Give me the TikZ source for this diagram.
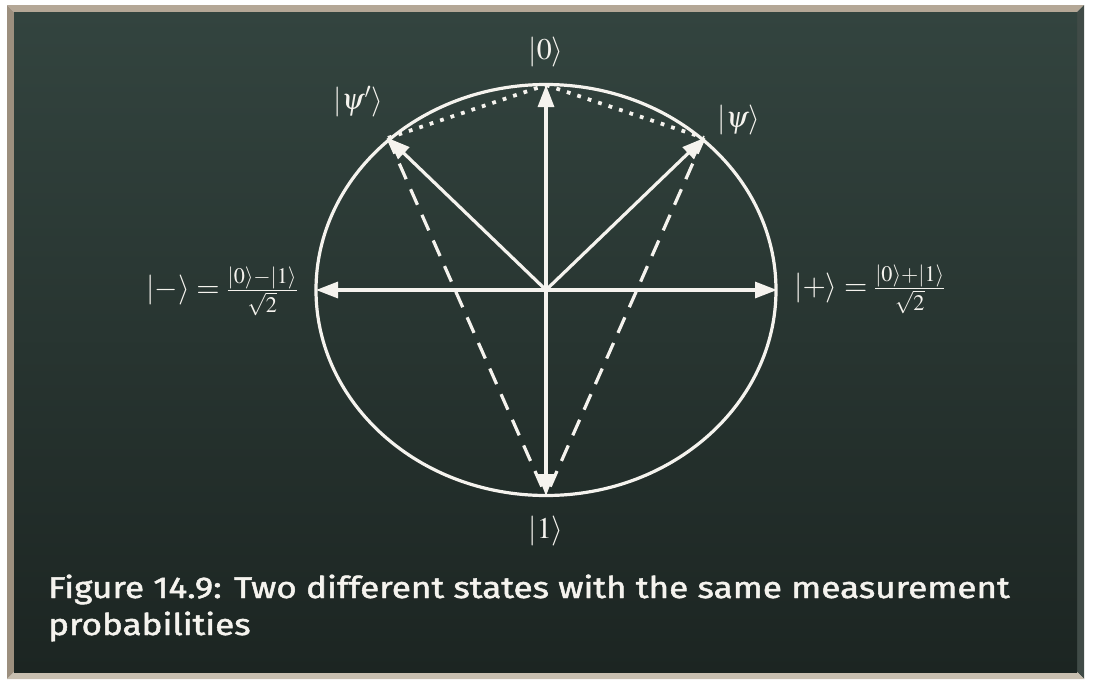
\documentclass[tikz,border=0pt]{standalone}
\usepackage{mathptmx}
\usepackage[no-math]{fontspec}
\usepackage{graphicx}
\newfontfamily\capfont[RawFeature={embolden=1.5}]{Fira Sans}
\usetikzlibrary{arrows.meta}
\definecolor{chalkc}{HTML}{F5F3EE}
\definecolor{boardtop}{HTML}{33443F}
\definecolor{boardbot}{HTML}{1C2522}
\definecolor{frametop}{HTML}{B4A796}
\definecolor{frameleft}{HTML}{9C8F7E}
\definecolor{frameright}{HTML}{404B47}
\definecolor{framebot}{HTML}{C8BFB0}
\newcommand{\capstretch}[1]{\scalebox{1.17}[1]{#1}}
\begin{document}
\begin{tikzpicture}[x=1pt,y=-1pt,
  chalk/.style={draw=chalkc, line width=3.2pt},
  vec/.style={chalk, -{Triangle[length=22pt,width=16pt]}},
  dashline/.style={chalk, dash pattern=on 17pt off 11pt},
  dotline/.style={chalk, line width=3.8pt, dash pattern=on 3.8pt off 7.2pt},
  lbl/.style={text=chalkc, font=\fontsize{30}{36}\selectfont, inner sep=0pt},
  captxt/.style={text=chalkc, font=\capfont\fontsize{30}{36}\selectfont, inner sep=0pt, anchor=base west}]
\useasboundingbox (0,0) rectangle (1096,694);
\fill[white] (0,0) rectangle (1096,694);
% frame
\fill[frametop] (7,5) -- (1084,5) -- (1077,12) -- (14,12) -- cycle;
\fill[frameleft] (7,5) -- (14,12) -- (14,672) -- (7,679) -- cycle;
\fill[frameright] (1084,5) -- (1084,679) -- (1077,672) -- (1077,12) -- cycle;
\fill[framebot] (7,679) -- (1084,679) -- (1077,672) -- (14,672) -- cycle;
\shade[top color=boardtop, bottom color=boardbot] (14,12) rectangle (1077,672);
% geometry
\coordinate (O) at (546,290);
\coordinate (Z) at (546,85);
\coordinate (U) at (546,496);
\coordinate (M) at (316,290);
\coordinate (P) at (777,290);
\coordinate (S) at (704,138);
\coordinate (Sp) at (388,138);
\draw[chalk] (O) ellipse [x radius=230, y radius=205.5];
\draw[dotline] (Sp) -- (Z);
\draw[dotline] (Z) -- (S);
\draw[dashline] (S) -- (U);
\draw[dashline] (Sp) -- (U);
\draw[vec] (O) -- (Z);
\draw[vec] (O) -- (U);
\draw[vec] (O) -- (M);
\draw[vec] (O) -- (P);
\draw[vec] (O) -- (S);
\draw[vec] (O) -- (Sp);
% labels
\node[lbl] (l0) at (546,52) {$|0\rangle$};
\node[lbl] (l1) at (546,531) {$|1\rangle$};
\node[lbl] (lpsip) at (358,102) {$|\psi'\rangle$};
\node[lbl] (lpsi) at (739,120) {$|\psi\rangle$};
\node[lbl, anchor=east] (lminus) at (298,291) {$|-\rangle = \frac{|0\rangle-|1\rangle}{\sqrt{2}}$};
\node[lbl, anchor=west] (lplus) at (794,289) {$|+\rangle = \frac{|0\rangle+|1\rangle}{\sqrt{2}}$};
% caption
\node[captxt] (c1) at (48,598) {\capstretch{Figure 14.9: Two different states with the same measurement}};
\node[captxt] (c2) at (48,635) {\capstretch{probabilities}};
\end{tikzpicture}
\end{document}
